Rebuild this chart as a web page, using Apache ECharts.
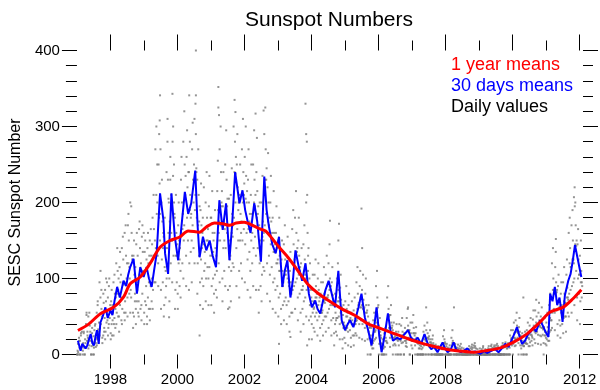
<!DOCTYPE html>
<html><head><meta charset="utf-8">
<script src="https://cdn.jsdelivr.net/npm/echarts@6/dist/echarts.min.js"></script>
<style>html,body{margin:0;padding:0;background:#fff}#c{width:600px;height:390px}</style>
</head><body><div id="c"></div>
<script>
// ---- tick labels ----
const xLabelYears = [1998, 2000, 2002, 2004, 2006, 2008, 2010, 2012];
const xMinorYears = [1999, 2001, 2003, 2005, 2007, 2009, 2011];

// ---- 1 year means (read points: year, value) ----
const redYears = [1997.03,1997.35,1997.70,1998.10,1998.39,1998.59,1998.89,1999.18,1999.48,1999.78,2000.07,2000.32,2000.66,2000.86,2001.11,2001.35,2001.55,2001.75,2001.99,2002.19,2002.44,2002.63,2002.83,2003.03,2003.33,2003.62,2003.92,2004.21,2004.51,2004.90,2005.30,2005.69,2006.09,2006.48,2006.88,2007.27,2007.66,2008.06,2008.45,2008.85,2009.24,2009.64,2010.03,2010.43,2010.82,2011.12,2011.51,2011.80,2012.05];
const redValues = [31.6,40,53.6,62.4,75.5,93,102,119.5,141,150,154.6,162.5,161,167.8,173,172,170,173,174,171,165.6,162.5,152.4,141.4,126,108.5,91,80,71,60,51.4,40.4,33.8,27.2,20.7,15,10.5,6.6,4.4,3,5.3,8.8,16.3,27.2,42.6,55.8,62.3,73.4,85.2];

// ---- 30 days means (read points: year, value) ----
const blueYears = [
  1997.03,1997.11,1997.16,1997.21,1997.26,1997.31,1997.36,1997.41,1997.46,1997.51,1997.56,1997.60,1997.65,1997.70,1997.77,1997.85,1997.92,
  1998.00,1998.06,1998.12,1998.20,1998.28,1998.39,1998.47,1998.53,1998.59,1998.69,1998.79,1998.89,1998.99,
  1999.08,1999.15,1999.23,1999.30,1999.38,1999.48,1999.58,1999.63,1999.72,1999.82,1999.92,
  2000.02,2000.10,2000.22,2000.32,2000.41,2000.53,2000.60,2000.66,2000.76,2000.86,2000.96,
  2001.05,2001.15,2001.25,2001.35,2001.45,2001.55,2001.63,2001.72,2001.85,2001.94,
  2002.02,2002.09,2002.18,2002.29,2002.38,2002.49,2002.59,2002.66,2002.73,2002.83,2002.93,
  2003.03,2003.13,2003.20,2003.28,2003.37,2003.45,2003.52,2003.62,2003.72,2003.82,2003.92,
  2004.01,2004.11,2004.18,2004.26,2004.34,2004.41,2004.51,2004.56,2004.63,2004.70,2004.80,2004.90,
  2005.00,2005.08,2005.15,2005.25,2005.33,2005.40,2005.49,2005.59,2005.70,2005.79,2005.88,2005.94,
  2006.02,2006.09,2006.18,2006.28,2006.36,2006.43,2006.55,2006.65,2006.78,2006.88,2006.97,
  2007.07,2007.17,2007.27,2007.37,2007.47,2007.57,2007.66,2007.76,2007.91,2007.98,
  2008.06,2008.15,2008.24,2008.32,2008.45,2008.55,2008.65,2008.75,2008.88,
  2009.04,2009.15,2009.25,2009.38,2009.48,2009.58,2009.68,2009.78,2009.88,2009.98,
  2010.06,2010.13,2010.20,2010.28,2010.37,2010.45,2010.54,2010.62,2010.70,2010.82,2010.90,2010.98,
  2011.07,2011.12,2011.19,2011.26,2011.33,2011.40,2011.49,2011.56,2011.66,2011.73,2011.80,2011.86,2011.95,2012.05
];
const blueValues = [
  18,5,14,16,8,12,20,27,15,12,25,32,14,42,50,62,48,
  58,52,70,89,75,97,90,105,115,126,80,115,102,
  115,100,89,110,133,212,177,133,106,212,155,
  124,160,214,185,199,242,170,128,155,137,150,
  130,115,203,164,199,124,170,240,199,216,
  190,176,160,199,175,122,234,190,168,145,133,
  155,89,110,124,75,100,137,115,97,120,80,
  62,71,60,54,70,84,97,97,75,62,110,45,
  32,40,45,36,50,62,80,49,30,12,40,62,
  25,3,25,54,30,18,22,20,27,32,22,
  18,22,14,27,14,7,10,3,16,8,
  3,6,16,6,3,5,8,3,4,
  1,4,2,5,7,3,8,14,10,20,
  28,36,25,14,18,26,30,36,30,45,38,30,
  23,80,70,89,65,75,43,78,97,106,125,144,124,102
];

// ---- daily values, set A (six samples per month, from Jan 1997) ----
const dailyStartA = 1997 + 1/144;
const dailyStepA = 1/72;
const dailyValuesA = [
  // 1997
  0,5,14,0,22,9, 18,0,25,8,30,11, 0,15,28,9,0,20, 15,40,52,18,30,22, 50,20,12,38,18,42, 0,11,28,16,0,24,
  9,32,17,40,10,22, 55,20,65,33,15,42, 95,35,75,40,85,50, 22,55,25,68,30,48, 85,30,70,42,95,45, 75,35,40,100,48,65,
  // 1998
  28,70,40,25,65,55, 95,40,48,80,35,75, 120,55,80,110,50,100, 50,115,65,95,105,45, 140,60,75,125,92,55, 160,70,55,130,95,120,
  75,170,120,150,80,100, 200,85,75,160,130,95, 55,130,50,105,70,115, 60,145,70,85,130,55, 70,165,105,140,60,120, 65,155,80,135,110,160,
  // 1999
  55,135,70,110,65,125, 50,140,75,120,60,130, 150,60,90,130,70,145, 180,85,130,165,95,150, 270,140,210,185,250,130, 120,250,180,225,150,270,
  85,200,125,175,95,160, 155,65,115,140,75,90, 240,140,280,230,160,200, 100,175,230,120,210,150, 150,280,235,130,250,185, 180,85,130,160,95,145,
  // 2000
  80,170,120,150,90,140, 110,230,160,200,120,185, 280,150,170,250,205,235, 130,260,180,220,150,240, 240,120,190,210,135,185, 150,270,170,230,140,250,
  310,190,210,290,245,180, 230,120,170,210,130,195, 95,190,125,170,100,160, 180,90,145,110,165,120, 200,100,150,180,115,165, 100,195,115,170,130,180,
  // 2001
  180,90,130,160,100,150, 80,160,105,140,85,130, 110,215,150,190,120,175, 270,150,170,240,195,215, 100,195,140,175,110,165, 250,140,190,230,160,205,
  85,170,115,150,90,130, 210,110,160,185,120,170, 300,180,240,280,200,260, 140,250,165,220,150,200, 110,210,150,185,120,175, 270,150,200,240,165,225,
  // 2002
  260,145,205,235,160,215, 125,230,165,200,135,185, 110,210,150,185,120,170, 250,140,200,230,155,210, 130,240,180,215,140,195, 85,170,120,150,90,135,
  200,105,155,175,115,160, 290,170,230,270,185,245, 120,220,175,200,130,180, 105,200,145,175,115,160, 180,95,135,160,100,145, 85,160,120,140,90,125,
  // 2003
  150,75,110,130,80,120, 60,125,90,110,65,95, 145,70,105,125,75,110, 65,130,100,115,70,90, 50,110,80,95,55,85, 165,85,120,145,90,125,
  180,95,135,160,100,140, 75,150,105,130,80,115, 55,120,85,100,60,90, 145,70,110,125,75,100, 200,85,95,160,110,140, 45,100,65,85,50,75,
  // 2004
  40,85,55,70,35,62, 105,50,75,90,55,80, 45,100,65,85,50,75, 35,80,55,65,40,58, 95,45,70,80,50,72, 105,50,75,90,55,78,
  120,60,85,100,65,90, 45,95,65,78,48,70, 28,65,40,55,30,48, 100,48,70,85,50,75, 40,88,55,72,42,62, 20,52,35,42,22,38,
  // 2005
  70,32,50,60,35,55, 30,65,45,55,32,48, 22,55,40,45,25,40, 58,25,40,48,28,44, 95,45,60,80,48,68, 40,90,62,75,45,65,
  85,40,60,72,45,62, 35,80,55,65,38,58, 20,50,30,42,22,36, 0,25,12,20,8,15, 45,18,30,36,20,32, 90,42,60,75,45,65,
  // 2006
  38,14,25,30,15,22, 0,14,8,0,12,0, 28,10,18,22,0,16, 75,32,50,60,35,52, 22,52,35,42,25,38, 32,12,22,28,14,24,
  12,30,20,25,0,18, 30,12,20,25,0,18, 38,15,25,30,16,22, 0,28,18,22,11,15, 48,20,32,38,22,30, 32,0,22,28,12,18,
  // 2007
  42,18,28,35,20,25, 12,28,18,22,0,15, 0,14,8,0,12,0, 0,11,7,0,9,0, 30,12,20,25,0,18, 32,14,22,28,0,20,
  24,10,16,20,0,14, 0,20,12,15,0,11, 0,9,7,0,0,8, 0,0,8,0,0,0, 0,9,0,0,7,0, 24,11,15,20,0,14,
  // 2008
  0,11,7,0,9,0, 0,8,0,0,7,0, 22,12,15,18,0,14, 0,10,7,0,9,0, 0,9,7,0,0,8, 11,0,7,0,9,0,
  0,0,8,0,0,0, 0,0,0,0,0,0, 0,7,0,0,0,8, 0,10,7,0,9,0, 12,0,9,11,0,8, 0,0,7,0,0,0,
  // 2009
  0,8,0,0,0,7, 0,0,9,0,0,0, 0,7,0,0,0,0, 0,8,0,0,7,0, 0,11,7,0,9,0, 8,0,10,0,0,9,
  12,0,8,0,11,0, 0,0,0,0,0,0, 11,0,12,0,9,0, 0,13,10,0,11,8, 8,0,14,11,0,9, 25,15,20,22,12,18,
  // 2010
  32,14,22,28,11,20, 45,20,30,38,22,28, 15,36,25,30,12,24, 8,22,12,18,0,11, 11,24,15,18,0,14, 32,14,22,26,11,20,
  38,16,26,32,18,24, 22,46,32,38,20,30, 58,28,42,50,30,40, 26,55,38,45,25,36, 50,24,35,42,26,33, 15,36,25,30,14,22,
  // 2011
  42,20,30,36,18,28, 65,30,48,55,32,45, 120,55,85,100,60,80, 55,115,80,95,58,85, 40,90,60,72,45,62, 38,80,55,65,40,58,
  95,48,70,80,50,68, 50,105,75,88,55,72, 160,80,120,140,85,115, 170,90,125,150,95,120, 100,195,145,170,110,150, 75,145,100,125,80,105,
  // 2012
  130,70,95,110,75,90
];

// ---- daily values, set B (three more samples per month, offset) ----
const dailyStartB = 1997 + 1/108;
const dailyStepB = 1/36;
const dailyValuesB = [
  // 1997
  0,3,18, 0,28,10, 5,30,0, 10,55,25, 8,55,30, 0,35,12, 0,38,15, 12,70,30, 25,110,60, 15,80,35, 20,100,55, 25,90,60,
  // 1998
  20,85,45, 25,105,60, 40,140,85, 30,135,75, 40,155,95, 45,170,100, 50,185,115, 55,195,125, 35,150,80, 40,160,95, 50,175,110, 45,170,105,
  // 1999
  40,150,90, 40,160,95, 45,165,100, 60,210,130, 95,300,200, 90,290,185, 60,230,140, 50,180,110, 100,310,205, 70,260,160, 95,300,200, 60,210,130,
  // 2000
  60,200,125, 75,260,165, 100,320,210, 90,295,190, 85,280,180, 95,305,200, 120,330,240, 80,270,175, 65,225,140, 60,220,135, 70,240,150, 65,235,145,
  // 2001
  65,215,135, 55,190,118, 75,255,160, 95,300,200, 70,240,150, 90,295,195, 60,205,125, 70,245,155, 115,335,238, 90,290,190, 75,250,160, 100,310,210,
  // 2002
  95,300,200, 85,270,175, 75,250,160, 90,295,195, 85,285,185, 55,200,125, 70,235,150, 110,325,230, 80,265,170, 70,235,150, 60,215,135, 55,195,120,
  // 2003
  50,180,110, 40,150,90, 45,170,105, 40,155,95, 30,135,80, 55,190,120, 60,215,135, 45,180,110, 30,140,85, 40,170,105, 50,210,130, 20,120,70,
  // 2004
  20,105,60, 30,125,75, 25,120,70, 18,95,55, 25,115,68, 30,130,75, 35,145,85, 25,115,65, 12,80,45, 25,120,70, 20,105,60, 8,65,35,
  // 2005
  15,90,50, 12,80,45, 10,70,38, 12,75,40, 25,115,65, 22,110,62, 20,105,60, 18,100,55, 0,65,35, 0,35,15, 8,55,30, 22,110,62,
  // 2006
  0,48,25, 0,20,8, 0,35,18, 15,90,50, 10,65,35, 0,42,22, 0,40,20, 0,40,20, 0,48,25, 0,35,18, 10,60,32, 0,42,22,
  // 2007
  8,52,28, 0,36,18, 0,18,8, 0,15,0, 0,38,20, 0,42,22, 0,32,16, 0,25,12, 0,13,0, 0,11,0, 0,12,0, 0,32,16,
  // 2008
  0,14,0, 0,12,0, 0,32,15, 0,14,0, 0,13,0, 0,14,0, 0,0,0, 0,0,0, 0,11,0, 0,13,0, 0,15,0, 0,0,0,
  // 2009
  0,0,0, 0,11,0, 0,0,0, 0,11,0, 0,13,0, 0,12,0, 0,14,0, 0,0,0, 0,15,0, 0,16,0, 0,15,0, 0,32,17,
  // 2010
  0,42,22, 12,55,30, 0,48,25, 0,28,14, 0,30,15, 0,42,22, 11,48,26, 12,58,32, 15,72,40, 14,68,38, 13,62,35, 0,48,25,
  // 2011
  12,55,30, 18,80,45, 35,140,85, 32,135,82, 25,105,62, 22,95,56, 28,115,68, 30,125,75, 50,180,115, 55,190,125, 65,200,143, 45,165,105,
  // 2012
  40,150,95
];

// extra isolated daily points (year, value)
const extraYears = [1999.48,1999.47,1999.85,1999.75,2000.35,2000.55,2000.55,2000.66,2001.22,2001.22,2001.24,2001.73,2001.55,2002.33,2002.57,2003.82,2003.84,2003.86,2003.03,2003.37,2003.87,2004.55,2004.80,2004.82,2005.49,2005.51,2006.88,2007.42,2008.25,2010.32,2011.29,2011.85,2011.83];
const extraValues = [341,308,343,49,341,341,400,25,352,325,315,319,62,317,321,330,290,280,14,23,12,176,150,172,192,140,62,62,62,75,152,220,207];

const dailyData = dailyValuesA.map((v, i) => [dailyStartA + i * dailyStepA, v])
  .concat(dailyValuesB.map((v, i) => [dailyStartB + i * dailyStepB, v]))
  .concat(extraYears.map((y, i) => [y, extraValues[i]]));
const blueData = blueYears.map((y, i) => [y, blueValues[i]]);
const redData = redYears.map((y, i) => [y, redValues[i]]);

const FONT = 'Liberation Sans, Arial, Helvetica, sans-serif';
const chart = echarts.init(document.getElementById('c'), null, {renderer: 'canvas'});

function xAx(pos, len, vals, labels) {
  return {
    type: 'value', min: 1997, max: 2012.1, position: pos,
    axisLine: {show: false, onZero: false}, splitLine: {show: false},
    axisTick: {show: true, inside: false, length: len, customValues: vals, lineStyle: {color: '#000', width: 1}},
    axisLabel: labels ? {show: true, customValues: vals, fontSize: 15, margin: 18, color: '#000', fontFamily: FONT, formatter: v => String(v)} : {show: false}
  };
}
function yAx(pos, len, interval, labels, name) {
  const a = {
    type: 'value', min: 0, max: 400, interval: interval, position: pos,
    axisLine: {show: false, onZero: false}, splitLine: {show: false},
    axisTick: {show: true, inside: false, length: len, lineStyle: {color: '#000', width: 1}},
    axisLabel: labels ? {show: true, fontSize: 15, margin: 17, color: '#000', fontFamily: FONT} : {show: false}
  };
  if (name) {
    a.name = name; a.nameLocation = 'middle'; a.nameGap = 49;
    a.nameTextStyle = {fontSize: 16, color: '#000', fontFamily: FONT};
  }
  return a;
}

chart.setOption({
  animation: false,
  backgroundColor: '#fff',
  title: {text: 'Sunspot Numbers', left: 324, top: 5, textAlign: 'center',
    textStyle: {fontSize: 21, fontWeight: 'normal', color: '#000', fontFamily: FONT}},
  legend: {
    orient: 'vertical', left: 441, top: 51, icon: 'none', itemWidth: 0, itemHeight: 18, itemGap: 3,
    selectedMode: false,
    textStyle: {fontSize: 18, fontFamily: FONT},
    data: [
      {name: '1 year means', textStyle: {color: '#ff0000'}},
      {name: '30 days means', textStyle: {color: '#0000ff'}},
      {name: 'Daily values', textStyle: {color: '#000'}}
    ]
  },
  grid: {left: 74, right: 17, top: 50.5, bottom: 35.5, containLabel: false},
  xAxis: [
    xAx('bottom', 14, xLabelYears, true),
    xAx('bottom', 10, xMinorYears, false),
    xAx('top', 16, xLabelYears, false),
    xAx('top', 10, xMinorYears, false)
  ],
  yAxis: [
    yAx('left', 15, 100, true, 'SESC Sunspot Number'),
    yAx('left', 11, 20, false),
    yAx('right', 15, 100, false),
    yAx('right', 10, 20, false)
  ],
  series: [
    {name: 'Daily values', type: 'scatter', data: dailyData, xAxisIndex: 0, yAxisIndex: 0,
      symbol: 'rect', symbolSize: 2, itemStyle: {color: '#7a7a7a'}, z: 1, silent: true, large: false},
    {name: '30 days means', type: 'line', data: blueData, xAxisIndex: 0, yAxisIndex: 0,
      showSymbol: false, lineStyle: {color: '#0000ff', width: 2}, itemStyle: {color: '#0000ff'}, z: 2},
    {name: '1 year means', type: 'line', data: redData, xAxisIndex: 0, yAxisIndex: 0, smooth: 0.3,
      showSymbol: false, lineStyle: {color: '#ff0000', width: 3}, itemStyle: {color: '#ff0000'}, z: 3}
  ]
});
</script>
</body></html>
